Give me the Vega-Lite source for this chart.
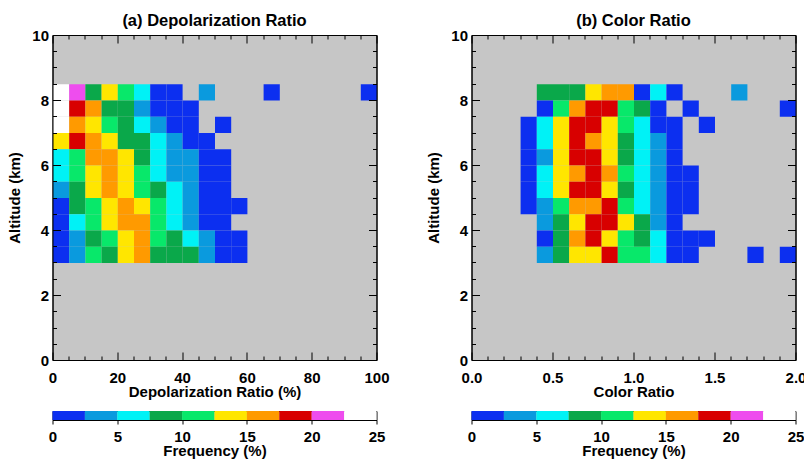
{
  "$schema": "https://vega.github.io/schema/vega-lite/v6.json",
  "background": "white",
  "padding": {"left": 6.5, "top": 12, "right": 0, "bottom": 0},
  "datasets": {
    "a": [
      {"x": 2.5, "y": 8.25, "f": 23.75}, {"x": 7.5, "y": 8.25, "f": 21.25}, {"x": 12.5, "y": 8.25, "f": 8.75}, {"x": 17.5, "y": 8.25, "f": 13.75}, {"x": 22.5, "y": 8.25, "f": 11.25}, {"x": 27.5, "y": 8.25, "f": 6.25}, {"x": 32.5, "y": 8.25, "f": 1.25}, {"x": 37.5, "y": 8.25, "f": 1.25}, {"x": 47.5, "y": 8.25, "f": 3.75}, {"x": 67.5, "y": 8.25, "f": 1.25}, {"x": 97.5, "y": 8.25, "f": 1.25},
      {"x": 2.5, "y": 7.75, "f": 23.75}, {"x": 7.5, "y": 7.75, "f": 18.75}, {"x": 12.5, "y": 7.75, "f": 16.25}, {"x": 17.5, "y": 7.75, "f": 8.75}, {"x": 22.5, "y": 7.75, "f": 8.75}, {"x": 27.5, "y": 7.75, "f": 3.75}, {"x": 32.5, "y": 7.75, "f": 1.25}, {"x": 37.5, "y": 7.75, "f": 1.25}, {"x": 42.5, "y": 7.75, "f": 1.25},
      {"x": 2.5, "y": 7.25, "f": 23.75}, {"x": 7.5, "y": 7.25, "f": 16.25}, {"x": 12.5, "y": 7.25, "f": 13.75}, {"x": 17.5, "y": 7.25, "f": 11.25}, {"x": 22.5, "y": 7.25, "f": 8.75}, {"x": 27.5, "y": 7.25, "f": 6.25}, {"x": 32.5, "y": 7.25, "f": 3.75}, {"x": 37.5, "y": 7.25, "f": 1.25}, {"x": 42.5, "y": 7.25, "f": 1.25}, {"x": 52.5, "y": 7.25, "f": 1.25},
      {"x": 2.5, "y": 6.75, "f": 13.75}, {"x": 7.5, "y": 6.75, "f": 18.75}, {"x": 12.5, "y": 6.75, "f": 16.25}, {"x": 17.5, "y": 6.75, "f": 13.75}, {"x": 22.5, "y": 6.75, "f": 8.75}, {"x": 27.5, "y": 6.75, "f": 8.75}, {"x": 32.5, "y": 6.75, "f": 6.25}, {"x": 37.5, "y": 6.75, "f": 3.75}, {"x": 42.5, "y": 6.75, "f": 1.25}, {"x": 47.5, "y": 6.75, "f": 1.25},
      {"x": 2.5, "y": 6.25, "f": 6.25}, {"x": 7.5, "y": 6.25, "f": 11.25}, {"x": 12.5, "y": 6.25, "f": 16.25}, {"x": 17.5, "y": 6.25, "f": 16.25}, {"x": 22.5, "y": 6.25, "f": 13.75}, {"x": 27.5, "y": 6.25, "f": 8.75}, {"x": 32.5, "y": 6.25, "f": 6.25}, {"x": 37.5, "y": 6.25, "f": 3.75}, {"x": 42.5, "y": 6.25, "f": 3.75}, {"x": 47.5, "y": 6.25, "f": 1.25}, {"x": 52.5, "y": 6.25, "f": 1.25},
      {"x": 2.5, "y": 5.75, "f": 6.25}, {"x": 7.5, "y": 5.75, "f": 11.25}, {"x": 12.5, "y": 5.75, "f": 13.75}, {"x": 17.5, "y": 5.75, "f": 16.25}, {"x": 22.5, "y": 5.75, "f": 13.75}, {"x": 27.5, "y": 5.75, "f": 11.25}, {"x": 32.5, "y": 5.75, "f": 6.25}, {"x": 37.5, "y": 5.75, "f": 3.75}, {"x": 42.5, "y": 5.75, "f": 3.75}, {"x": 47.5, "y": 5.75, "f": 1.25}, {"x": 52.5, "y": 5.75, "f": 1.25},
      {"x": 2.5, "y": 5.25, "f": 3.75}, {"x": 7.5, "y": 5.25, "f": 8.75}, {"x": 12.5, "y": 5.25, "f": 13.75}, {"x": 17.5, "y": 5.25, "f": 16.25}, {"x": 22.5, "y": 5.25, "f": 13.75}, {"x": 27.5, "y": 5.25, "f": 11.25}, {"x": 32.5, "y": 5.25, "f": 8.75}, {"x": 37.5, "y": 5.25, "f": 6.25}, {"x": 42.5, "y": 5.25, "f": 3.75}, {"x": 47.5, "y": 5.25, "f": 1.25}, {"x": 52.5, "y": 5.25, "f": 1.25},
      {"x": 2.5, "y": 4.75, "f": 1.25}, {"x": 7.5, "y": 4.75, "f": 8.75}, {"x": 12.5, "y": 4.75, "f": 11.25}, {"x": 17.5, "y": 4.75, "f": 13.75}, {"x": 22.5, "y": 4.75, "f": 16.25}, {"x": 27.5, "y": 4.75, "f": 13.75}, {"x": 32.5, "y": 4.75, "f": 11.25}, {"x": 37.5, "y": 4.75, "f": 6.25}, {"x": 42.5, "y": 4.75, "f": 3.75}, {"x": 47.5, "y": 4.75, "f": 1.25}, {"x": 52.5, "y": 4.75, "f": 1.25}, {"x": 57.5, "y": 4.75, "f": 1.25},
      {"x": 2.5, "y": 4.25, "f": 1.25}, {"x": 7.5, "y": 4.25, "f": 6.25}, {"x": 12.5, "y": 4.25, "f": 11.25}, {"x": 17.5, "y": 4.25, "f": 13.75}, {"x": 22.5, "y": 4.25, "f": 16.25}, {"x": 27.5, "y": 4.25, "f": 16.25}, {"x": 32.5, "y": 4.25, "f": 11.25}, {"x": 37.5, "y": 4.25, "f": 6.25}, {"x": 42.5, "y": 4.25, "f": 3.75}, {"x": 47.5, "y": 4.25, "f": 1.25}, {"x": 52.5, "y": 4.25, "f": 1.25},
      {"x": 2.5, "y": 3.75, "f": 1.25}, {"x": 7.5, "y": 3.75, "f": 3.75}, {"x": 12.5, "y": 3.75, "f": 8.75}, {"x": 17.5, "y": 3.75, "f": 11.25}, {"x": 22.5, "y": 3.75, "f": 13.75}, {"x": 27.5, "y": 3.75, "f": 16.25}, {"x": 32.5, "y": 3.75, "f": 11.25}, {"x": 37.5, "y": 3.75, "f": 8.75}, {"x": 42.5, "y": 3.75, "f": 6.25}, {"x": 47.5, "y": 3.75, "f": 3.75}, {"x": 52.5, "y": 3.75, "f": 1.25}, {"x": 57.5, "y": 3.75, "f": 1.25},
      {"x": 2.5, "y": 3.25, "f": 1.25}, {"x": 7.5, "y": 3.25, "f": 3.75}, {"x": 12.5, "y": 3.25, "f": 11.25}, {"x": 17.5, "y": 3.25, "f": 8.75}, {"x": 22.5, "y": 3.25, "f": 13.75}, {"x": 27.5, "y": 3.25, "f": 16.25}, {"x": 32.5, "y": 3.25, "f": 8.75}, {"x": 37.5, "y": 3.25, "f": 8.75}, {"x": 42.5, "y": 3.25, "f": 8.75}, {"x": 47.5, "y": 3.25, "f": 3.75}, {"x": 52.5, "y": 3.25, "f": 1.25}, {"x": 57.5, "y": 3.25, "f": 1.25}
    ],
    "b": [
      {"x": 0.45, "y": 8.25, "f": 8.75}, {"x": 0.55, "y": 8.25, "f": 8.75}, {"x": 0.65, "y": 8.25, "f": 8.75}, {"x": 0.75, "y": 8.25, "f": 13.75}, {"x": 0.85, "y": 8.25, "f": 16.25}, {"x": 0.95, "y": 8.25, "f": 16.25}, {"x": 1.05, "y": 8.25, "f": 1.25}, {"x": 1.15, "y": 8.25, "f": 6.25}, {"x": 1.25, "y": 8.25, "f": 1.25}, {"x": 1.65, "y": 8.25, "f": 3.75},
      {"x": 0.45, "y": 7.75, "f": 1.25}, {"x": 0.55, "y": 7.75, "f": 11.25}, {"x": 0.65, "y": 7.75, "f": 16.25}, {"x": 0.75, "y": 7.75, "f": 18.75}, {"x": 0.85, "y": 7.75, "f": 18.75}, {"x": 0.95, "y": 7.75, "f": 11.25}, {"x": 1.05, "y": 7.75, "f": 8.75}, {"x": 1.15, "y": 7.75, "f": 1.25}, {"x": 1.35, "y": 7.75, "f": 1.25}, {"x": 1.95, "y": 7.75, "f": 1.25},
      {"x": 0.35, "y": 7.25, "f": 1.25}, {"x": 0.45, "y": 7.25, "f": 6.25}, {"x": 0.55, "y": 7.25, "f": 13.75}, {"x": 0.65, "y": 7.25, "f": 18.75}, {"x": 0.75, "y": 7.25, "f": 18.75}, {"x": 0.85, "y": 7.25, "f": 13.75}, {"x": 0.95, "y": 7.25, "f": 11.25}, {"x": 1.05, "y": 7.25, "f": 6.25}, {"x": 1.15, "y": 7.25, "f": 1.25}, {"x": 1.25, "y": 7.25, "f": 1.25}, {"x": 1.45, "y": 7.25, "f": 1.25},
      {"x": 0.35, "y": 6.75, "f": 1.25}, {"x": 0.45, "y": 6.75, "f": 6.25}, {"x": 0.55, "y": 6.75, "f": 13.75}, {"x": 0.65, "y": 6.75, "f": 18.75}, {"x": 0.75, "y": 6.75, "f": 16.25}, {"x": 0.85, "y": 6.75, "f": 13.75}, {"x": 0.95, "y": 6.75, "f": 8.75}, {"x": 1.05, "y": 6.75, "f": 6.25}, {"x": 1.15, "y": 6.75, "f": 3.75}, {"x": 1.25, "y": 6.75, "f": 1.25},
      {"x": 0.35, "y": 6.25, "f": 1.25}, {"x": 0.45, "y": 6.25, "f": 3.75}, {"x": 0.55, "y": 6.25, "f": 13.75}, {"x": 0.65, "y": 6.25, "f": 18.75}, {"x": 0.75, "y": 6.25, "f": 18.75}, {"x": 0.85, "y": 6.25, "f": 13.75}, {"x": 0.95, "y": 6.25, "f": 8.75}, {"x": 1.05, "y": 6.25, "f": 6.25}, {"x": 1.15, "y": 6.25, "f": 3.75}, {"x": 1.25, "y": 6.25, "f": 1.25},
      {"x": 0.35, "y": 5.75, "f": 1.25}, {"x": 0.45, "y": 5.75, "f": 6.25}, {"x": 0.55, "y": 5.75, "f": 13.75}, {"x": 0.65, "y": 5.75, "f": 16.25}, {"x": 0.75, "y": 5.75, "f": 18.75}, {"x": 0.85, "y": 5.75, "f": 16.25}, {"x": 0.95, "y": 5.75, "f": 11.25}, {"x": 1.05, "y": 5.75, "f": 6.25}, {"x": 1.15, "y": 5.75, "f": 3.75}, {"x": 1.25, "y": 5.75, "f": 1.25}, {"x": 1.35, "y": 5.75, "f": 1.25},
      {"x": 0.35, "y": 5.25, "f": 1.25}, {"x": 0.45, "y": 5.25, "f": 6.25}, {"x": 0.55, "y": 5.25, "f": 13.75}, {"x": 0.65, "y": 5.25, "f": 18.75}, {"x": 0.75, "y": 5.25, "f": 18.75}, {"x": 0.85, "y": 5.25, "f": 13.75}, {"x": 0.95, "y": 5.25, "f": 8.75}, {"x": 1.05, "y": 5.25, "f": 6.25}, {"x": 1.15, "y": 5.25, "f": 3.75}, {"x": 1.25, "y": 5.25, "f": 1.25}, {"x": 1.35, "y": 5.25, "f": 1.25},
      {"x": 0.35, "y": 4.75, "f": 1.25}, {"x": 0.45, "y": 4.75, "f": 3.75}, {"x": 0.55, "y": 4.75, "f": 11.25}, {"x": 0.65, "y": 4.75, "f": 16.25}, {"x": 0.75, "y": 4.75, "f": 16.25}, {"x": 0.85, "y": 4.75, "f": 18.75}, {"x": 0.95, "y": 4.75, "f": 11.25}, {"x": 1.05, "y": 4.75, "f": 6.25}, {"x": 1.15, "y": 4.75, "f": 3.75}, {"x": 1.25, "y": 4.75, "f": 1.25}, {"x": 1.35, "y": 4.75, "f": 1.25},
      {"x": 0.45, "y": 4.25, "f": 3.75}, {"x": 0.55, "y": 4.25, "f": 8.75}, {"x": 0.65, "y": 4.25, "f": 13.75}, {"x": 0.75, "y": 4.25, "f": 18.75}, {"x": 0.85, "y": 4.25, "f": 18.75}, {"x": 0.95, "y": 4.25, "f": 13.75}, {"x": 1.05, "y": 4.25, "f": 8.75}, {"x": 1.15, "y": 4.25, "f": 3.75}, {"x": 1.25, "y": 4.25, "f": 1.25},
      {"x": 0.45, "y": 3.75, "f": 1.25}, {"x": 0.55, "y": 3.75, "f": 8.75}, {"x": 0.65, "y": 3.75, "f": 16.25}, {"x": 0.75, "y": 3.75, "f": 18.75}, {"x": 0.85, "y": 3.75, "f": 13.75}, {"x": 0.95, "y": 3.75, "f": 11.25}, {"x": 1.05, "y": 3.75, "f": 8.75}, {"x": 1.15, "y": 3.75, "f": 6.25}, {"x": 1.25, "y": 3.75, "f": 1.25}, {"x": 1.35, "y": 3.75, "f": 1.25}, {"x": 1.45, "y": 3.75, "f": 1.25},
      {"x": 0.45, "y": 3.25, "f": 3.75}, {"x": 0.55, "y": 3.25, "f": 8.75}, {"x": 0.65, "y": 3.25, "f": 13.75}, {"x": 0.75, "y": 3.25, "f": 13.75}, {"x": 0.85, "y": 3.25, "f": 18.75}, {"x": 0.95, "y": 3.25, "f": 11.25}, {"x": 1.05, "y": 3.25, "f": 11.25}, {"x": 1.15, "y": 3.25, "f": 6.25}, {"x": 1.25, "y": 3.25, "f": 1.25}, {"x": 1.35, "y": 3.25, "f": 1.25}, {"x": 1.75, "y": 3.25, "f": 1.25}, {"x": 1.95, "y": 3.25, "f": 1.25}
    ],
    "bar": [
      {"lo": 0, "hi": 2.5, "f": 1.25}, {"lo": 2.5, "hi": 5, "f": 3.75}, {"lo": 5, "hi": 7.5, "f": 6.25}, {"lo": 7.5, "hi": 10, "f": 8.75}, {"lo": 10, "hi": 12.5, "f": 11.25},
      {"lo": 12.5, "hi": 15, "f": 13.75}, {"lo": 15, "hi": 17.5, "f": 16.25}, {"lo": 17.5, "hi": 20, "f": 18.75}, {"lo": 20, "hi": 22.5, "f": 21.25}, {"lo": 22.5, "hi": 25, "f": 23.75}
    ]
  },
  "hconcat": [
    {
      "vconcat": [
        {
          "width": 324, "height": 325,
          "title": "(a) Depolarization Ratio",
          "data": {"name": "a"},
          "layer": [
            {
              "mark": {"type": "rect"},
              "encoding": {
                "x": {"field": "x", "type": "quantitative", "bin": {"step": 5, "extent": [0, 100]}, "scale": {"domain": [0, 100], "nice": false},
                  "axis": {"orient": "bottom", "title": "Depolarization Ratio (%)", "values": [0,5,10,15,20,25,30,35,40,45,50,55,60,65,70,75,80,85,90,95,100],
                    "labelExpr": "datum.value % 20 === 0 ? format(datum.value, 'd') : ''", "labelFlush": false, "labelOverlap": false,
                    "tickSize": {"condition": {"test": "datum.value % 20 === 0", "value": -8}, "value": -4}, "labelPadding": 18, "titlePadding": -5}},
                "y": {"field": "y", "type": "quantitative", "bin": {"step": 0.5, "extent": [0, 10]}, "scale": {"domain": [0, 10], "nice": false},
                  "axis": {"orient": "left", "title": "Altitude (km)", "values": [0,0.5,1,1.5,2,2.5,3,3.5,4,4.5,5,5.5,6,6.5,7,7.5,8,8.5,9,9.5,10],
                    "labelExpr": "round(datum.value*2) % 4 === 0 ? format(datum.value, 'd') : ''", "labelFlush": false, "labelOverlap": false,
                    "tickSize": {"condition": {"test": "round(datum.value*2) % 4 === 0", "value": -8}, "value": -4}, "labelPadding": 12, "titlePadding": 9}},
                "color": {"field": "f", "type": "quantitative", "scale": {"type": "threshold", "domain": [2.5,5,7.5,10,12.5,15,17.5,20,22.5], "range": ["#0c2ff0","#0a9ade","#00f2f6","#0aa84a","#08e86a","#ffe600","#ff9a00","#d80000","#ee4dee","#ffffff"]}, "legend": null}
              }
            },
            {
              "mark": {"type": "rect", "opacity": 0},
              "encoding": {
                "x": {"field": "x", "type": "quantitative", "bin": {"step": 5, "extent": [0, 100]},
                  "axis": {"orient": "top", "title": null, "labels": false, "values": [0,5,10,15,20,25,30,35,40,45,50,55,60,65,70,75,80,85,90,95,100],
                    "tickSize": {"condition": {"test": "datum.value % 20 === 0", "value": -8}, "value": -4}}},
                "y": {"field": "y", "type": "quantitative", "bin": {"step": 0.5, "extent": [0, 10]},
                  "axis": {"orient": "right", "title": null, "labels": false, "values": [0,0.5,1,1.5,2,2.5,3,3.5,4,4.5,5,5.5,6,6.5,7,7.5,8,8.5,9,9.5,10],
                    "tickSize": {"condition": {"test": "round(datum.value*2) % 4 === 0", "value": -8}, "value": -4}}}
              }
            }
          ],
          "resolve": {"axis": {"x": "independent", "y": "independent"}}
        },
        {
          "width": 324, "height": 9,
          "data": {"name": "bar"},
          "mark": {"type": "rect"},
          "encoding": {
            "x": {"field": "lo", "type": "quantitative", "scale": {"domain": [0, 25], "nice": false},
              "axis": {"title": "Frequency (%)", "values": [0,5,10,15,20,25], "format": "d", "tickSize": 4, "labelPadding": 5, "titlePadding": -1, "labelFlush": false}},
            "x2": {"field": "hi"},
            "color": {"field": "f", "type": "quantitative", "scale": {"type": "threshold", "domain": [2.5,5,7.5,10,12.5,15,17.5,20,22.5], "range": ["#0c2ff0","#0a9ade","#00f2f6","#0aa84a","#08e86a","#ffe600","#ff9a00","#d80000","#ee4dee","#ffffff"]}, "legend": null}
          }
        }
      ],
      "spacing": 10
    },
    {
      "vconcat": [
        {
          "width": 324, "height": 325,
          "title": "(b) Color Ratio",
          "data": {"name": "b"},
          "layer": [
            {
              "mark": {"type": "rect"},
              "encoding": {
                "x": {"field": "x", "type": "quantitative", "bin": {"step": 0.1, "extent": [0, 2]}, "scale": {"domain": [0, 2], "nice": false},
                  "axis": {"orient": "bottom", "title": "Color Ratio", "values": [0,0.1,0.2,0.3,0.4,0.5,0.6,0.7,0.8,0.9,1,1.1,1.2,1.3,1.4,1.5,1.6,1.7,1.8,1.9,2],
                    "labelExpr": "round(datum.value*10) % 5 === 0 ? format(datum.value, '.1f') : ''", "labelFlush": false, "labelOverlap": false,
                    "tickSize": {"condition": {"test": "round(datum.value*10) % 5 === 0", "value": -8}, "value": -4}, "labelPadding": 18, "titlePadding": -5}},
                "y": {"field": "y", "type": "quantitative", "bin": {"step": 0.5, "extent": [0, 10]}, "scale": {"domain": [0, 10], "nice": false},
                  "axis": {"orient": "left", "title": "Altitude (km)", "values": [0,0.5,1,1.5,2,2.5,3,3.5,4,4.5,5,5.5,6,6.5,7,7.5,8,8.5,9,9.5,10],
                    "labelExpr": "round(datum.value*2) % 4 === 0 ? format(datum.value, 'd') : ''", "labelFlush": false, "labelOverlap": false,
                    "tickSize": {"condition": {"test": "round(datum.value*2) % 4 === 0", "value": -8}, "value": -4}, "labelPadding": 12, "titlePadding": 9}},
                "color": {"field": "f", "type": "quantitative", "scale": {"type": "threshold", "domain": [2.5,5,7.5,10,12.5,15,17.5,20,22.5], "range": ["#0c2ff0","#0a9ade","#00f2f6","#0aa84a","#08e86a","#ffe600","#ff9a00","#d80000","#ee4dee","#ffffff"]}, "legend": null}
              }
            },
            {
              "mark": {"type": "rect", "opacity": 0},
              "encoding": {
                "x": {"field": "x", "type": "quantitative", "bin": {"step": 0.1, "extent": [0, 2]},
                  "axis": {"orient": "top", "title": null, "labels": false, "values": [0,0.1,0.2,0.3,0.4,0.5,0.6,0.7,0.8,0.9,1,1.1,1.2,1.3,1.4,1.5,1.6,1.7,1.8,1.9,2],
                    "tickSize": {"condition": {"test": "round(datum.value*10) % 5 === 0", "value": -8}, "value": -4}}},
                "y": {"field": "y", "type": "quantitative", "bin": {"step": 0.5, "extent": [0, 10]},
                  "axis": {"orient": "right", "title": null, "labels": false, "values": [0,0.5,1,1.5,2,2.5,3,3.5,4,4.5,5,5.5,6,6.5,7,7.5,8,8.5,9,9.5,10],
                    "tickSize": {"condition": {"test": "round(datum.value*2) % 4 === 0", "value": -8}, "value": -4}}}
              }
            }
          ],
          "resolve": {"axis": {"x": "independent", "y": "independent"}}
        },
        {
          "width": 324, "height": 9,
          "data": {"name": "bar"},
          "mark": {"type": "rect"},
          "encoding": {
            "x": {"field": "lo", "type": "quantitative", "scale": {"domain": [0, 25], "nice": false},
              "axis": {"title": "Frequency (%)", "values": [0,5,10,15,20,25], "format": "d", "tickSize": 4, "labelPadding": 5, "titlePadding": -1, "labelFlush": false}},
            "x2": {"field": "hi"},
            "color": {"field": "f", "type": "quantitative", "scale": {"type": "threshold", "domain": [2.5,5,7.5,10,12.5,15,17.5,20,22.5], "range": ["#0c2ff0","#0a9ade","#00f2f6","#0aa84a","#08e86a","#ffe600","#ff9a00","#d80000","#ee4dee","#ffffff"]}, "legend": null}
          }
        }
      ],
      "spacing": 10
    }
  ],
  "spacing": 35,
  "resolve": {"scale": {"color": "independent"}},
  "config": {
    "view": {"fill": "#c6c6c6", "stroke": "black", "strokeWidth": 1},
    "axis": {"labelFont": "Liberation Sans", "labelFontWeight": "bold", "labelFontSize": 15, "labelColor": "black",
      "titleFont": "Liberation Sans", "titleFontWeight": "bold", "titleFontSize": 15, "titleColor": "black",
      "domainColor": "black", "tickColor": "black", "grid": false},
    "title": {"font": "Liberation Sans", "fontSize": 16.5, "fontWeight": "bold", "color": "black", "offset": -1, "anchor": "middle"}
  }
}
